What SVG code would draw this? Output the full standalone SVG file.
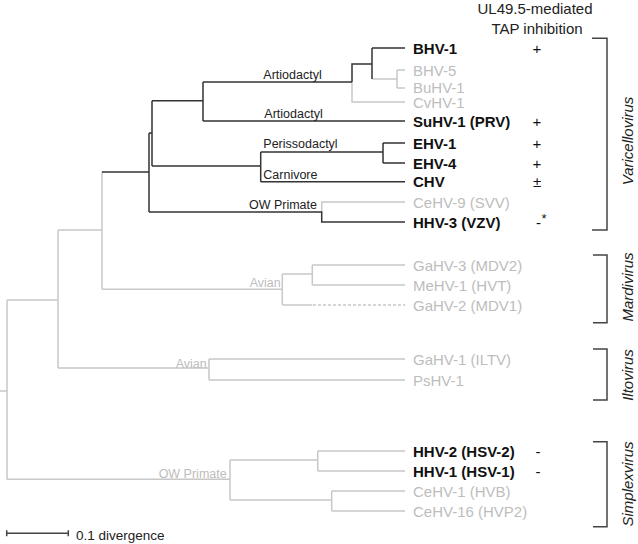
<svg xmlns="http://www.w3.org/2000/svg" width="638" height="544" viewBox="0 0 638 544">
<style>
.k{stroke:#333;stroke-width:1.5;fill:none}
.g{stroke:#c8c8c8;stroke-width:1.5;fill:none}
.d{stroke:#c8c8c8;stroke-width:1.5;fill:none;stroke-dasharray:3,2}
.br{stroke:#444;stroke-width:1.5;fill:none}
text{font-family:"Liberation Sans",Arial,sans-serif}
.lb{font-size:15px;font-weight:bold;fill:#111}
.lg{font-size:15px;fill:#bdbdbd}
.hl{font-size:12.5px;fill:#222}
.hg{font-size:12.5px;fill:#bdbdbd}
.mk{font-size:15px;fill:#111;text-anchor:middle}
.cl{font-size:15px;font-style:italic;fill:#222;text-anchor:middle}
.tt{font-size:15px;fill:#222;text-anchor:middle}
</style>
<g id="connectors">
<path class="g" d="M372,79H397M397,70V88M397,70H405M397,88H405M352,82V102H405M321.7,212V202H405"/>
<path class="g" d="M58,230H102V172M102,172V289.3M58,230V368M7,300H58M7,300V479.3M0,391H7"/>
<path class="g" d="M102,289.3H282.3M282.3,274V305M282.3,274H312.3M312.3,265V285M312.3,265H405M312.3,285H405M282.3,305H312.3"/>
<path class="d" d="M313,305H405"/>
<path class="g" d="M58,368H209M209,359V380M209,359H405M209,380H405"/>
<path class="g" d="M7,479.3H230M230,460V500M230,460H317.7M317.7,451V471M317.7,451H405M317.7,471H405M230,500H331.7M331.7,491V511M331.7,491H405M331.7,511H405"/>
<path class="k" d="M102,172H149M149,133V212M149,133H152M152,100.7V166M152,100.7H203M203,82V121M203,82H352M203,121H405M352,82V64H372M372,48V79M372,48H405"/>
<path class="k" d="M152,166H260.7M260.7,152V181.7M260.7,152H383M383,143V163M383,143H405M383,163H405M260.7,181.7H405M149,212H321.7V222H405"/>
</g>
<g id="host-labels">
<text class="hl" x="263.3" y="79">Artiodactyl</text>
<text class="hl" x="264.3" y="118">Artiodactyl</text>
<text class="hl" x="263.3" y="148">Perissodactyl</text>
<text class="hl" x="263.3" y="179">Carnivore</text>
<text class="hl" x="317" y="209" text-anchor="end">OW Primate</text>
<text class="hg" x="280.7" y="286.5" text-anchor="end">Avian</text>
<text class="hg" x="206.7" y="368" text-anchor="end">Avian</text>
<text class="hg" x="226.7" y="478" text-anchor="end">OW Primate</text>
</g>
<g id="title">
<text class="tt" x="535" y="13.5">UL49.5-mediated</text>
<text class="tt" x="537" y="33.5">TAP inhibition</text>
</g>
<g id="BHV-1"><text class="lb" x="413" y="53.5">BHV-1</text><text class="mk" x="537" y="53.5">+</text></g>
<g id="BHV-5"><text class="lg" x="413" y="75.5">BHV-5</text></g>
<g id="BuHV-1"><text class="lg" x="413" y="93">BuHV-1</text></g>
<g id="CvHV-1"><text class="lg" x="413" y="108">CvHV-1</text></g>
<g id="SuHV-1"><text class="lb" x="413" y="126.5">SuHV-1 (PRV)</text><text class="mk" x="537" y="126.5">+</text></g>
<g id="EHV-1"><text class="lb" x="413" y="148.5">EHV-1</text><text class="mk" x="537" y="148.5">+</text></g>
<g id="EHV-4"><text class="lb" x="413" y="168.5">EHV-4</text><text class="mk" x="537" y="168.5">+</text></g>
<g id="CHV"><text class="lb" x="413" y="187">CHV</text><text class="mk" x="537" y="187">±</text></g>
<g id="CeHV-9"><text class="lg" x="413" y="207.5">CeHV-9 (SVV)</text></g>
<g id="HHV-3"><text class="lb" x="413" y="227.5">HHV-3 (VZV)</text><text x="536" y="227.5" font-size="15" fill="#111">-</text><text x="541.5" y="223" font-size="13" fill="#111">*</text></g>
<g id="GaHV-3"><text class="lg" x="413" y="270.5">GaHV-3 (MDV2)</text></g>
<g id="MeHV-1"><text class="lg" x="413" y="290.5">MeHV-1 (HVT)</text></g>
<g id="GaHV-2"><text class="lg" x="413" y="310.5">GaHV-2 (MDV1)</text></g>
<g id="GaHV-1"><text class="lg" x="413" y="364.5">GaHV-1 (ILTV)</text></g>
<g id="PsHV-1"><text class="lg" x="413" y="385.5">PsHV-1</text></g>
<g id="HHV-2"><text class="lb" x="413" y="456.5">HHV-2 (HSV-2)</text><text class="mk" x="538" y="456.5">-</text></g>
<g id="HHV-1"><text class="lb" x="413" y="476.5">HHV-1 (HSV-1)</text><text class="mk" x="538" y="476.5">-</text></g>
<g id="CeHV-1"><text class="lg" x="413" y="496.5">CeHV-1 (HVB)</text></g>
<g id="CeHV-16"><text class="lg" x="413" y="516.5">CeHV-16 (HVP2)</text></g>
<g id="Varicellovirus"><path class="br" d="M592,38.3H607V230H592"/><text class="cl" transform="translate(633,141) rotate(-90)">Varicellovirus</text></g>
<g id="Mardivirus"><path class="br" d="M593,255H607V322.7H593"/><text class="cl" transform="translate(633,287) rotate(-90)">Mardivirus</text></g>
<g id="Iltovirus"><path class="br" d="M593,349H607V400H593"/><text class="cl" transform="translate(633,375) rotate(-90)">Iltovirus</text></g>
<g id="Simplexvirus"><path class="br" d="M593,441.7H607V526.7H593"/><text class="cl" transform="translate(633,484) rotate(-90)">Simplexvirus</text></g>
<g id="scale-bar"><path class="br" d="M6.7,533.3H68.3M6.7,530.3V536.3M68.3,530.3V536.3"/><text x="76" y="539.5" font-size="13.5" fill="#222">0.1 divergence</text></g>
</svg>
